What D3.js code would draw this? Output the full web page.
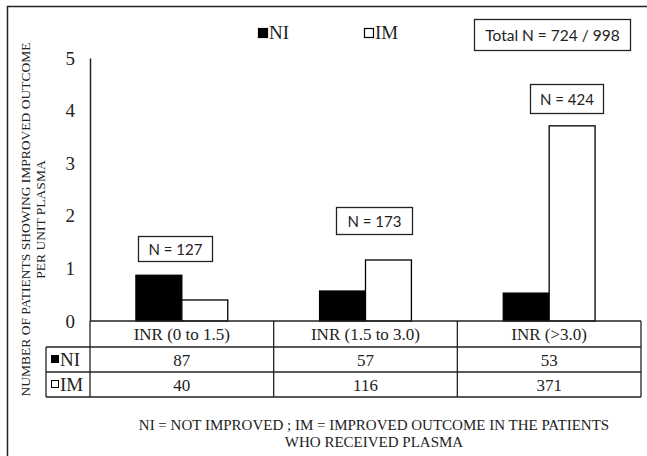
<!DOCTYPE html>
<html>
<head>
<meta charset="utf-8">
<script src="https://cdn.jsdelivr.net/npm/d3@7"></script>
<style>
  html, body { margin: 0; padding: 0; background: #fff; }
  svg { display: block; }
  .serif { font-family: "Liberation Serif", "Times New Roman", serif; }
  .sans { font-family: "Lato", "Open Sans", sans-serif; }
</style>
</head>
<body>
<script>
// ---- data ----
const categories = ["INR (0 to 1.5)", "INR (1.5 to 3.0)", "INR (>3.0)"];
const seriesNames = ["NI", "IM"];
const niCounts = [87, 57, 53];
const imCounts = [40, 116, 371];
const niValues = [0.87, 0.57, 0.53];   // per unit plasma
const imValues = [0.40, 1.16, 3.71];
const groupTotals = [127, 173, 424];
const yTicks = [0, 1, 2, 3, 4, 5];
const totalLabel = "Total N = 724 / 998";
const yTitle = ["NUMBER OF PATIENTS SHOWING IMPROVED OUTCOME", "PER UNIT PLASMA"];
const footnote = ["NI = NOT IMPROVED ; IM = IMPROVED OUTCOME IN THE PATIENTS", "WHO RECEIVED PLASMA"];

const W = 647, H = 456;
const ink = "#222";

const svg = d3.select("body").append("svg").attr("width", W).attr("height", H);
svg.append("rect").attr("width", W).attr("height", H).attr("fill", "#fff");

// outer frame (clipped at right/bottom)
svg.append("rect").attr("x", 7.5).attr("y", 6.5).attr("width", W + 10).attr("height", H + 10)
  .attr("fill", "none").attr("stroke", ink).attr("stroke-width", 1.5);

const x = d3.scaleBand().domain(categories).range([90, 641]).paddingInner(0).paddingOuter(0);
const y = d3.scaleLinear().domain([0, 5]).range([321, 58]);
const xs = d3.scaleBand().domain(seriesNames).range([0.25 * x.bandwidth(), 0.75 * x.bandwidth()]);

// y axis
const yAxis = svg.append("g").attr("transform", "translate(90,0)")
  .call(d3.axisLeft(y).tickValues(yTicks).tickSize(0).tickPadding(15).tickFormat(d3.format("d")));
yAxis.attr("font-family", null).attr("font-size", null);
yAxis.select(".domain").attr("stroke", ink).attr("stroke-width", 1.5);
yAxis.selectAll("text").attr("class", "serif").style("font-size", "19px").attr("fill", ink);

// bars
const rows = categories.map((c, i) => ({ c, NI: niValues[i], IM: imValues[i] }));
const g = svg.append("g");
rows.forEach(r => {
  seriesNames.forEach(s => {
    g.append("rect")
      .attr("x", x(r.c) + xs(s))
      .attr("y", y(r[s]))
      .attr("width", xs.bandwidth())
      .attr("height", y(0) - y(r[s]))
      .attr("fill", s === "NI" ? "#000" : "#fff")
      .attr("stroke", "#000").attr("stroke-width", 1.3);
  });
});

// table
const tY0 = 321, tY1 = 347, tY2 = 372, tY3 = 397, tLeft = 46;
const lines = svg.append("g").attr("stroke", ink).attr("stroke-width", 1.3);
lines.append("line").attr("x1", 90).attr("x2", 641).attr("y1", tY0).attr("y2", tY0);
[tY1, tY2, tY3].forEach(yy => lines.append("line").attr("x1", tLeft).attr("x2", 641).attr("y1", yy).attr("y2", yy));
lines.append("line").attr("x1", tLeft).attr("x2", tLeft).attr("y1", tY1).attr("y2", tY3);
lines.append("line").attr("x1", 90).attr("x2", 90).attr("y1", tY0).attr("y2", tY3);
categories.forEach(c => {
  const xr = x(c) + x.bandwidth();
  lines.append("line").attr("x1", xr).attr("x2", xr).attr("y1", tY0).attr("y2", tY3);
});
const tt = svg.append("g").attr("class", "serif").style("font-size", "17px").attr("fill", ink).attr("text-anchor", "middle");
categories.forEach((c, i) => {
  const cx = x(c) + x.bandwidth() / 2;
  tt.append("text").attr("x", cx).attr("y", 340).text(c);
  tt.append("text").attr("x", cx).attr("y", 366).text(niCounts[i]);
  tt.append("text").attr("x", cx).attr("y", 391).text(imCounts[i]);
});
// table legend
[[tY1, "NI"], [tY2, "IM"]].forEach(([yy, s]) => {
  svg.append("rect").attr("x", 51.5).attr("y", yy + 8.5).attr("width", 7).attr("height", 7)
    .attr("fill", s === "NI" ? "#000" : "#fff").attr("stroke", "#000").attr("stroke-width", 1);
  svg.append("text").attr("x", 60).attr("y", yy + 19).attr("class", "serif").style("font-size", "19px")
    .attr("fill", ink).text(s);
});

// top legend
[[258, "NI"], [364, "IM"]].forEach(([lx, s]) => {
  svg.append("rect").attr("x", lx + 0.5).attr("y", 28.5).attr("width", 9).attr("height", 9)
    .attr("fill", s === "NI" ? "#000" : "#fff").attr("stroke", "#000").attr("stroke-width", 1.2);
  svg.append("text").attr("x", lx + 11).attr("y", 39).attr("class", "serif").style("font-size", "19px")
    .attr("fill", ink).text(s);
});

// total box
svg.append("rect").attr("x", 474.5).attr("y", 19.5).attr("width", 156).attr("height", 31)
  .attr("fill", "#fff").attr("stroke", ink).attr("stroke-width", 1.3);
svg.append("text").attr("x", 552.5).attr("y", 40.5).attr("text-anchor", "middle")
  .attr("class", "sans").style("font-size", "15.5px").attr("fill", ink).text(totalLabel);

// N boxes
const nBoxes = [
  { x: 138.5, y: 236.5, w: 74, h: 25 },
  { x: 336.5, y: 207.5, w: 76, h: 27 },
  { x: 530.5, y: 84.5, w: 73, h: 29 }
];
groupTotals.forEach((n, i) => {
  const b = nBoxes[i];
  svg.append("rect").attr("x", b.x).attr("y", b.y).attr("width", b.w).attr("height", b.h)
    .attr("fill", "#fff").attr("stroke", ink).attr("stroke-width", 1.3);
  svg.append("text").attr("x", b.x + b.w / 2).attr("y", b.y + b.h / 2 + 5.5).attr("text-anchor", "middle")
    .attr("class", "sans").style("font-size", "15px").attr("fill", ink).text("N = " + n);
});

// y title
const yt = svg.append("text").attr("transform", "translate(0,219.5) rotate(-90)")
  .attr("text-anchor", "middle").attr("class", "serif").style("font-size", "13.5px").attr("fill", ink);
yt.append("tspan").attr("x", 0).attr("y", 30).text(yTitle[0]);
yt.append("tspan").attr("x", 0).attr("y", 45).text(yTitle[1]);

// footnote
const fn = svg.append("text").attr("text-anchor", "middle").attr("class", "serif")
  .style("font-size", "15px").attr("fill", ink);
fn.append("tspan").attr("x", 374).attr("y", 430).text(footnote[0]);
fn.append("tspan").attr("x", 374).attr("y", 447).text(footnote[1]);
</script>
</body>
</html>
